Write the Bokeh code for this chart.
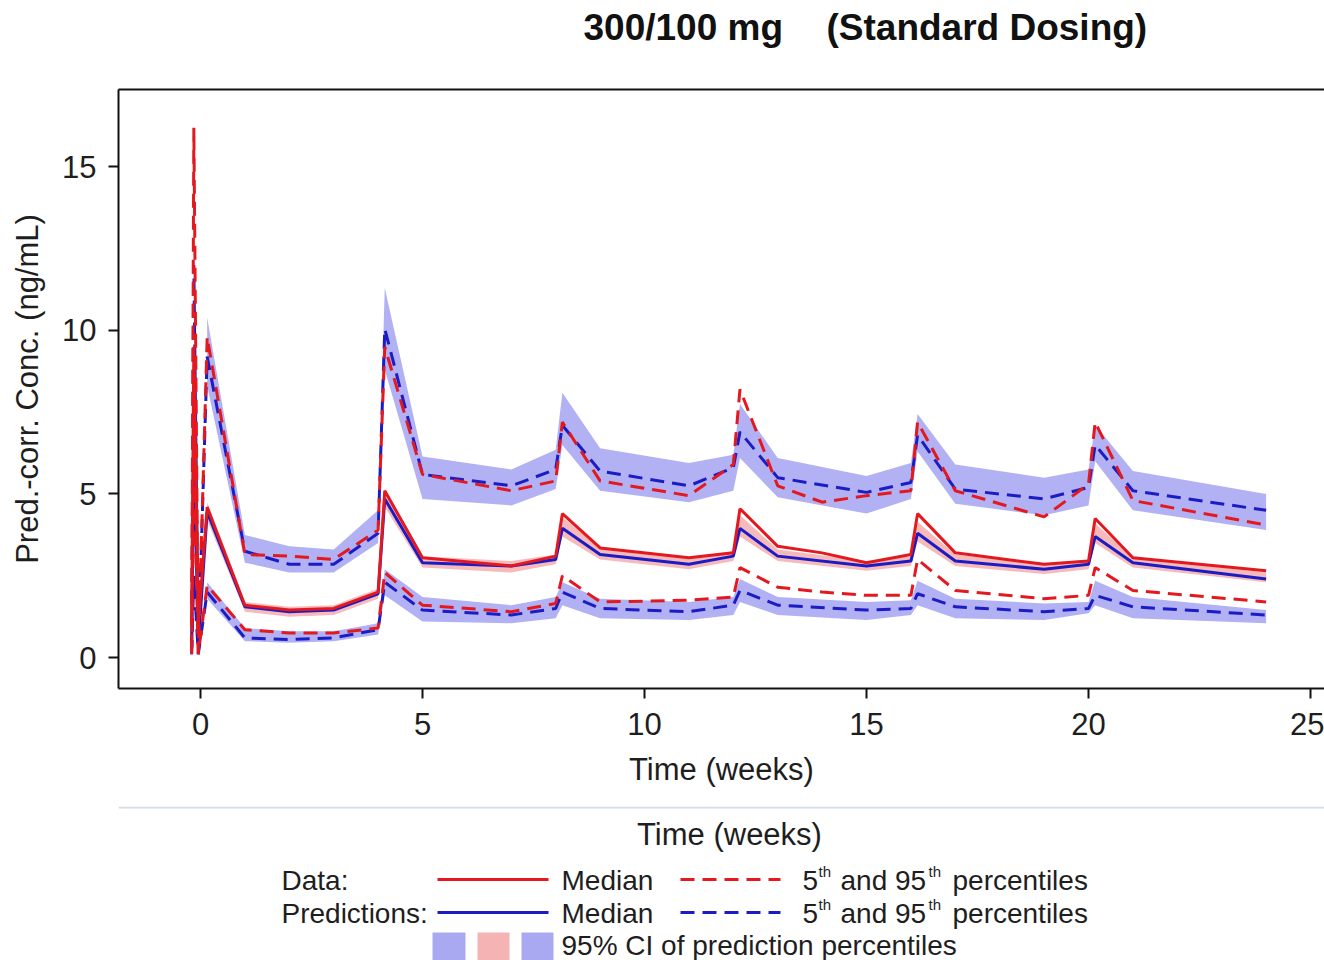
from bokeh.plotting import figure
from bokeh.models import Range1d, FixedTicker, LinearAxis
from bokeh.layouts import column
from bokeh.embed import file_html
from bokeh.resources import INLINE
from bokeh.core.properties import value

# ---------------- data ----------------
t_obs = [-0.2, -0.15, -0.05, 0.15, 1, 2, 3, 4, 4.15, 5, 7, 8, 8.15, 9, 11, 12, 12.15,
         13, 14, 15, 16, 16.15, 17, 19, 20, 20.15, 21, 24]
obs_p95 = [0.3, 16.2, 0.2, 9.8, 3.15, 3.1, 3.0, 3.9, 9.5, 5.6, 5.1, 5.4, 7.2, 5.4, 4.95, 5.9, 8.2,
           5.25, 4.75, 4.95, 5.1, 7.2, 5.1, 4.3, 5.3, 7.2, 4.8, 4.05]
obs_med = [1.0, 9.5, 1.0, 4.6, 1.6, 1.45, 1.5, 2.0, 5.1, 3.05, 2.8, 3.1, 4.4, 3.35, 3.05, 3.2, 4.55,
           3.4, 3.2, 2.9, 3.15, 4.4, 3.2, 2.85, 2.95, 4.25, 3.05, 2.65]
obs_p05 = [0.1, 6.0, 0.1, 2.2, 0.85, 0.75, 0.75, 0.9, 2.6, 1.6, 1.4, 1.65, 2.5, 1.7, 1.75, 1.85, 2.75,
           2.15, 2.0, 1.9, 1.9, 3.0, 2.05, 1.8, 1.9, 2.75, 2.05, 1.7]

t_pred = [-0.2, -0.15, -0.05, 0.15, 1, 2, 3, 4, 4.15, 5, 7, 8, 8.15, 9, 11, 12, 12.15,
          13, 15, 16, 16.15, 17, 19, 20, 20.15, 21, 24]
pred_p95 = [0.3, 12.0, 0.3, 9.2, 3.25, 2.85, 2.85, 3.8, 10.05, 5.6, 5.25, 5.75, 7.1, 5.7, 5.25, 5.8, 6.9,
            5.5, 5.05, 5.35, 6.8, 5.15, 4.85, 5.2, 6.5, 5.1, 4.5]
pred_med = [0.3, 6.5, 0.4, 4.45, 1.55, 1.4, 1.45, 1.95, 4.85, 2.9, 2.8, 3.0, 3.95, 3.15, 2.85, 3.1, 3.95,
            3.1, 2.8, 2.95, 3.8, 2.95, 2.7, 2.85, 3.7, 2.9, 2.4]
pred_p05 = [0.1, 2.5, 0.1, 2.0, 0.6, 0.55, 0.6, 0.85, 2.3, 1.45, 1.3, 1.5, 2.0, 1.5, 1.4, 1.6, 2.05,
            1.6, 1.45, 1.5, 1.95, 1.55, 1.4, 1.5, 1.9, 1.55, 1.3]

# 95% CI of prediction percentiles (from first post-dose sample on)
t_ci = [0.15, 1, 2, 3, 4, 4.15, 5, 7, 8, 8.15, 9, 11, 12, 12.15, 13, 15, 16, 16.15, 17, 19, 20, 20.15, 21, 24]
ci95_hi = [10.4, 3.75, 3.4, 3.3, 4.5, 11.3, 6.15, 5.75, 6.35, 8.1, 6.4, 5.95, 6.2, 7.75, 6.1, 5.55, 5.95,
           7.45, 5.9, 5.5, 5.75, 7.1, 5.7, 5.0]
ci95_lo = [8.3, 2.9, 2.6, 2.6, 3.5, 8.8, 4.85, 4.65, 5.15, 6.5, 5.1, 4.75, 5.1, 6.1, 4.9, 4.4, 4.85,
           6.3, 4.7, 4.35, 4.65, 6.0, 4.5, 3.9]
cimed_hi = [4.75, 1.7, 1.55, 1.6, 2.1, 5.15, 3.1, 2.95, 3.15, 4.3, 3.35, 3.05, 3.25, 4.35, 3.3, 2.95, 3.1,
            4.15, 3.15, 2.85, 3.0, 4.1, 3.05, 2.6]
cimed_lo = [4.2, 1.4, 1.25, 1.3, 1.8, 4.6, 2.75, 2.6, 2.85, 3.7, 3.0, 2.7, 2.95, 3.7, 2.95, 2.65, 2.8,
            3.55, 2.8, 2.55, 2.7, 3.5, 2.75, 2.3]
ci05_hi = [2.3, 0.9, 0.8, 0.8, 1.05, 2.7, 1.85, 1.6, 1.85, 2.3, 1.8, 1.7, 1.85, 2.4, 1.85, 1.7, 1.75,
           2.35, 1.8, 1.65, 1.7, 2.35, 1.85, 1.45]
ci05_lo = [1.8, 0.5, 0.45, 0.5, 0.7, 1.9, 1.1, 1.05, 1.2, 1.6, 1.2, 1.15, 1.3, 1.7, 1.3, 1.15, 1.3,
           1.6, 1.2, 1.15, 1.35, 1.6, 1.2, 1.05]

x_ticks = [0, 5, 10, 15, 20, 25]
y_ticks = [0, 5, 10, 15]

title_dose = "300/100 mg"
title_regimen = "(Standard Dosing)"

# ---------------- style ----------------
RED = "#e3191f"
BLUE = "#1c1cc4"
BAND_BLUE = "#a9a9f2"
BAND_PINK = "#f6b3b3"
FONT = "Liberation Sans"
TXT = "#1e1e1e"
DASH = "14 8"

W = 1324
LEFT = 118
TITLE_H = 60


def panel(height, y_top, y_bottom):
    f = figure(width=W, height=height, output_backend="svg", toolbar_location=None,
               x_range=Range1d(LEFT, W), y_range=Range1d(y_bottom, y_top),
               min_border_left=LEFT, min_border_right=0, min_border_top=0, min_border_bottom=0,
               x_axis_type=None, y_axis_type=None)
    f.outline_line_color = None
    f.grid.visible = False
    f.background_fill_color = "white"
    f.border_fill_color = "white"
    return f


def txt(f, x, y, s, size="28px", align="left", style="normal", color=TXT):
    f.text(x=[x], y=[y], text=[s], text_font=value(FONT), text_font_size=size,
           text_color=color, text_align=align, text_baseline="middle", text_font_style=style)


# ---------------- title panel ----------------
tf = panel(TITLE_H, 0, TITLE_H)
txt(tf, 583, 27, title_dose, size="37px", style="bold", color="#111111")
txt(tf, 826, 27, title_regimen, size="37px", style="bold", color="#111111")

# ---------------- main plot ----------------
p = figure(width=W, height=806 - TITLE_H, output_backend="svg", toolbar_location=None,
           x_range=Range1d(-1.847, 25.315), y_range=Range1d(-0.948, 17.37),
           min_border_left=LEFT, min_border_right=0, min_border_top=89 - TITLE_H, min_border_bottom=118)
p.outline_line_color = None
p.background_fill_color = "white"
p.border_fill_color = "white"
p.grid.visible = False

for ax in (p.xaxis[0], p.yaxis[0]):
    ax.axis_line_width = 2
    ax.axis_line_color = "#111111"
    ax.major_tick_line_width = 2
    ax.major_tick_line_color = "#111111"
    ax.major_tick_out = 10
    ax.major_tick_in = 0
    ax.minor_tick_line_color = None
    ax.major_label_text_font = FONT
    ax.major_label_text_font_size = "31px"
    ax.major_label_text_color = TXT
    ax.axis_label_text_font = FONT
    ax.axis_label_text_font_size = "31px"
    ax.axis_label_text_font_style = "normal"
    ax.axis_label_text_color = TXT

p.xaxis.ticker = FixedTicker(ticks=x_ticks)
p.yaxis.ticker = FixedTicker(ticks=y_ticks)
p.xaxis.axis_label = "Time (weeks)"
p.yaxis.axis_label = "Pred.-corr. Conc. (ng/mL)"
p.xaxis.major_label_standoff = 14
p.yaxis.major_label_standoff = 12
p.xaxis.axis_label_standoff = 14
p.yaxis.axis_label_standoff = 14

top = LinearAxis(ticker=FixedTicker(ticks=[]), major_tick_line_color=None, minor_tick_line_color=None,
                 major_label_text_font_size="0px", major_label_standoff=0,
                 axis_line_width=2, axis_line_color="#111111")
p.add_layout(top, "above")

# bands
p.varea(x=t_ci, y1=ci95_lo, y2=ci95_hi, fill_color=BAND_BLUE, fill_alpha=0.9)
p.varea(x=t_ci, y1=cimed_lo, y2=cimed_hi, fill_color=BAND_PINK, fill_alpha=0.9)
p.varea(x=t_ci, y1=ci05_lo, y2=ci05_hi, fill_color=BAND_BLUE, fill_alpha=0.9)

# predictions
p.line(t_pred, pred_med, line_color=BLUE, line_width=3)
p.line(t_pred, pred_p95, line_color=BLUE, line_width=3, line_dash=DASH)
p.line(t_pred, pred_p05, line_color=BLUE, line_width=3, line_dash=DASH)
# data
p.line(t_obs, obs_med, line_color=RED, line_width=3)
p.line(t_obs, obs_p95, line_color=RED, line_width=3, line_dash=DASH)
p.line(t_obs, obs_p05, line_color=RED, line_width=3, line_dash=DASH)

# ---------------- legend panel (page pixel coordinates) ----------------
q = panel(154, 806, 960)
q.segment(x0=[LEFT], y0=[807], x1=[W], y1=[807], line_color="#d3dde3", line_width=2)

txt(q, 729, 834, "Time (weeks)", size="31px", align="center")

rows = [(880, "Data:", RED), (913, "Predictions:", BLUE)]
for y, lab, col in rows:
    txt(q, 281, y, lab)
    q.line([437, 548], [y - 1, y - 1], line_color=col, line_width=3)
    txt(q, 561, y, "Median")
    q.line([680, 780], [y - 1, y - 1], line_color=col, line_width=3, line_dash=DASH)
    txt(q, 802, y, "5")
    txt(q, 818, y - 9, "th", size="15px")
    txt(q, 840, y, "and 95")
    txt(q, 928, y - 9, "th", size="15px")
    txt(q, 952, y, "percentiles")

q.quad(left=[432, 477, 521], right=[465, 509, 553], top=[932] * 3, bottom=[962] * 3,
       fill_color=[BAND_BLUE, BAND_PINK, BAND_BLUE], line_color=None)
txt(q, 561, 945, "95% CI of prediction percentiles")

layout = column(tf, p, q, spacing=0)
open("out.html", "w").write(file_html(layout, INLINE))
